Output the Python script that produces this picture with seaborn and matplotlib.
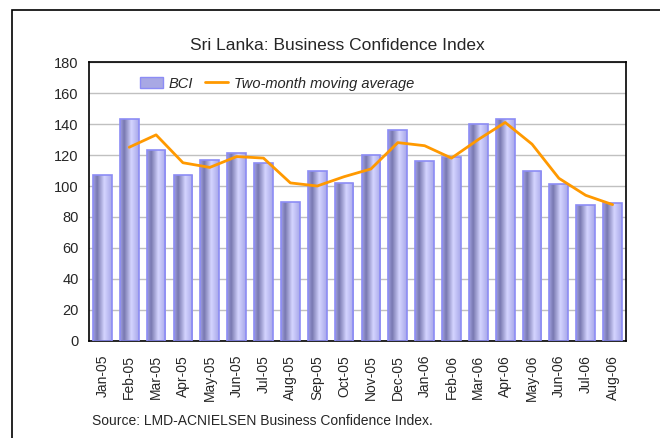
import numpy as np
import pandas as pd
import matplotlib
matplotlib.use("Agg")
import matplotlib.pyplot as plt
import seaborn as sns
from matplotlib.patches import Patch, Rectangle
from matplotlib.lines import Line2D
from matplotlib.colors import LinearSegmentedColormap

# Data
months = ['Jan-05', 'Feb-05', 'Mar-05', 'Apr-05', 'May-05', 'Jun-05', 'Jul-05',
          'Aug-05', 'Sep-05', 'Oct-05', 'Nov-05', 'Dec-05', 'Jan-06', 'Feb-06',
          'Mar-06', 'Apr-06', 'May-06', 'Jun-06', 'Jul-06', 'Aug-06']
bci = [107, 143, 123, 107, 117, 121, 115, 90, 110, 102, 120, 136, 116, 119,
       140, 143, 110, 101, 88, 89]
moving_avg = [np.nan, 125, 133, 115, 112, 119, 118, 102, 100, 106, 111, 128,
              126, 118, 130, 141, 127, 105, 94, 88]
yticks = list(range(0, 181, 20))

df = pd.DataFrame({'month': months, 'bci': bci, 'mavg': moving_avg})

sns.set_style("white")
plt.rcParams['font.family'] = ['Liberation Sans', 'DejaVu Sans']

fig = plt.figure(figsize=(6.6, 4.38), dpi=100)
ax = fig.add_axes([0.1348, 0.2215, 0.8137, 0.6369])

sns.barplot(data=df, x='month', y='bci', color='#b0b0ee', width=0.7,
            saturation=1, ax=ax, zorder=2)

# cylinder-like gradient inside each bar
grad = LinearSegmentedColormap.from_list(
    'bar', [(0, '#a0a0e0'), (0.22, '#7878b0'), (0.6, '#d4d4ff'), (1, '#a8a8e8')])
g = np.linspace(0, 1, 64).reshape(1, -1)
for p in ax.patches:
    x0, y0 = p.get_x(), p.get_y()
    w, h = p.get_width(), p.get_height()
    im = ax.imshow(g, cmap=grad, aspect='auto', extent=[x0, x0 + w, y0, y0 + h],
                   zorder=2.5, interpolation='bilinear')
    im.set_clip_path(p)
    p.set_facecolor('none')
    p.set_edgecolor('#8c8cf5')
    p.set_linewidth(1.2)
    p.set_zorder(3)

xpos = np.arange(len(months))
ax.plot(xpos, df['mavg'], color='#ff9900', lw=2, zorder=4)

ax.set_xlim(-0.5, len(months) - 0.5)
ax.set_ylim(0, 180)
ax.set_yticks(yticks)
ax.set_xticks(xpos)
ax.set_xticklabels(months, rotation=90, fontsize=10)
ax.set_xticks(np.arange(-0.5, len(months), 1), minor=True)
ax.tick_params(axis='x', which='major', length=0, pad=10)
ax.tick_params(axis='x', which='minor', length=4, width=1, color='black', direction='out')
ax.tick_params(axis='y', length=4, width=1, color='black', direction='out', labelsize=10.5)
ax.set_xlabel('')
ax.set_ylabel('')
ax.yaxis.grid(True, color='#c0c0c0', lw=1)
ax.set_axisbelow(True)
for s in ax.spines.values():
    s.set_visible(True)
    s.set_color('black')
    s.set_linewidth(1.2)

handles = [Patch(facecolor='#a8a8e4', edgecolor='#8c8cf5', label='BCI'),
           Line2D([0], [0], color='#ff9900', lw=2, label='Two-month moving average')]
leg = ax.legend(handles=handles, loc='upper left', ncol=2, frameon=False,
                bbox_to_anchor=(0.07, 0.995), prop={'style': 'italic', 'size': 10.5},
                handlelength=1.6, handletextpad=0.4, columnspacing=0.8)

fig.text(337 / 660, 1 - 45 / 438, 'Sri Lanka: Business Confidence Index',
         ha='center', va='center', fontsize=12.5)
fig.text(92 / 660, 1 - 421 / 438, 'Source: LMD-ACNIELSEN Business Confidence Index.',
         ha='left', va='center', fontsize=10)

# outer frame (only left and top edges fall inside the image)
fig.patches.append(Rectangle((12 / 660, -0.1), 1.2, 1 - 10 / 438 + 0.1,
                             transform=fig.transFigure, fill=False,
                             edgecolor='black', lw=1.2))

fig.savefig('out.png', dpi=100)
